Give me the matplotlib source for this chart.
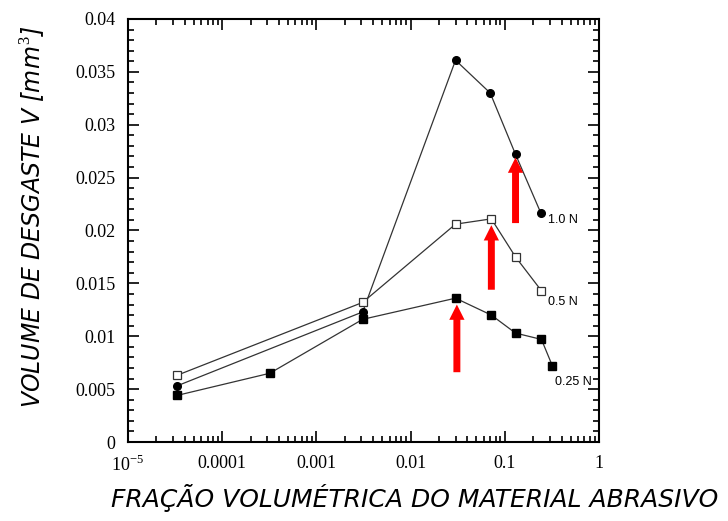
import matplotlib
matplotlib.use("Agg")
import matplotlib.pyplot as plt
from matplotlib.patches import FancyArrowPatch
from matplotlib.ticker import MultipleLocator, LogLocator, NullFormatter

plt.rcParams['mathtext.fontset'] = 'custom'
plt.rcParams['mathtext.rm'] = 'Liberation Serif'
plt.rcParams['mathtext.it'] = 'DejaVu Sans:italic'

# data
x_10 = [3.3e-5, 0.0031, 0.030, 0.070, 0.13, 0.24]
v_10 = [0.0053, 0.0123, 0.0361, 0.0330, 0.0272, 0.0217]

x_05 = [3.3e-5, 0.0031, 0.030, 0.072, 0.13, 0.245]
v_05 = [0.0063, 0.0132, 0.0206, 0.0211, 0.0175, 0.0143]

x_025 = [3.3e-5, 3.2e-4, 0.0031, 0.030, 0.072, 0.13, 0.245, 0.32]
v_025 = [0.0044, 0.0065, 0.0116, 0.0136, 0.0120, 0.0103, 0.0097, 0.0072]

series_labels = ["1.0 N", "0.5 N", "0.25 N"]
label_x = [0.29, 0.29, 0.34]
label_y = [0.0210, 0.0132, 0.0057]

arrow_x = [0.13, 0.072, 0.031]
arrow_base = [0.0207, 0.0144, 0.0066]
arrow_tip = [0.0269, 0.0205, 0.0130]

xticks = [1e-5, 1e-4, 1e-3, 1e-2, 1e-1, 1]
xtick_labels = [r"$10^{-5}$", "0.0001", "0.001", "0.01", "0.1", "1"]
yticks = [0, 0.005, 0.01, 0.015, 0.02, 0.025, 0.03, 0.035, 0.04]
ytick_labels = ["0", "0.005", "0.01", "0.015", "0.02", "0.025", "0.03", "0.035", "0.04"]

fig = plt.figure(figsize=(7.28, 5.21), dpi=100)
ax = fig.add_axes([0.1758, 0.1516, 0.647, 0.812])

line_kw = dict(color="#333333", lw=0.9)
ax.plot(x_10, v_10, marker="o", ms=5.5, mfc="black", mec="black", **line_kw)
ax.plot(x_05, v_05, marker="s", ms=5.5, mfc="white", mec="#333333", mew=0.9, **line_kw)
ax.plot(x_025, v_025, marker="s", ms=6, mfc="black", mec="black", **line_kw)

for lab, lx, ly in zip(series_labels, label_x, label_y):
    ax.text(lx, ly, lab, fontsize=9, family="Liberation Sans", va="center", ha="left")

for ax_x, yb, yt in zip(arrow_x, arrow_base, arrow_tip):
    arr = FancyArrowPatch((ax_x, yb), (ax_x, yt), mutation_scale=1,
                          arrowstyle="simple,head_length=11,head_width=11,tail_width=5",
                          color="red", lw=0, shrinkA=0, shrinkB=0, zorder=5)
    ax.add_patch(arr)

ax.set_xscale("log")
ax.set_xlim(1e-5, 1)
ax.set_ylim(0, 0.04)
ax.set_xticks(xticks)
ax.set_xticklabels(xtick_labels)
ax.xaxis.set_minor_locator(LogLocator(base=10, subs=range(2, 10), numticks=20))
ax.xaxis.set_minor_formatter(NullFormatter())
ax.set_yticks(yticks)
ax.set_yticklabels(ytick_labels)
ax.yaxis.set_minor_locator(MultipleLocator(0.001))

ax.tick_params(which="both", direction="in", top=True, right=True, width=1.2)
ax.tick_params(which="major", length=8, pad=9)
ax.tick_params(which="minor", length=4)
for lab in ax.get_xticklabels() + ax.get_yticklabels():
    lab.set_family("Liberation Serif")
    lab.set_fontsize(13)
for sp in ax.spines.values():
    sp.set_linewidth(1.5)

fig.text(0.570, 0.044, "FRAÇÃO VOLUMÉTRICA DO MATERIAL ABRASIVO", family="DejaVu Sans",
         style="italic", fontsize=18, ha="center", va="center")
fig.text(0.046, 0.583, r"VOLUME DE DESGASTE V [$mm^3$]", family="DejaVu Sans",
         style="italic", fontsize=17, ha="center", va="center", rotation=90)

fig.savefig("out.png", dpi=100)
